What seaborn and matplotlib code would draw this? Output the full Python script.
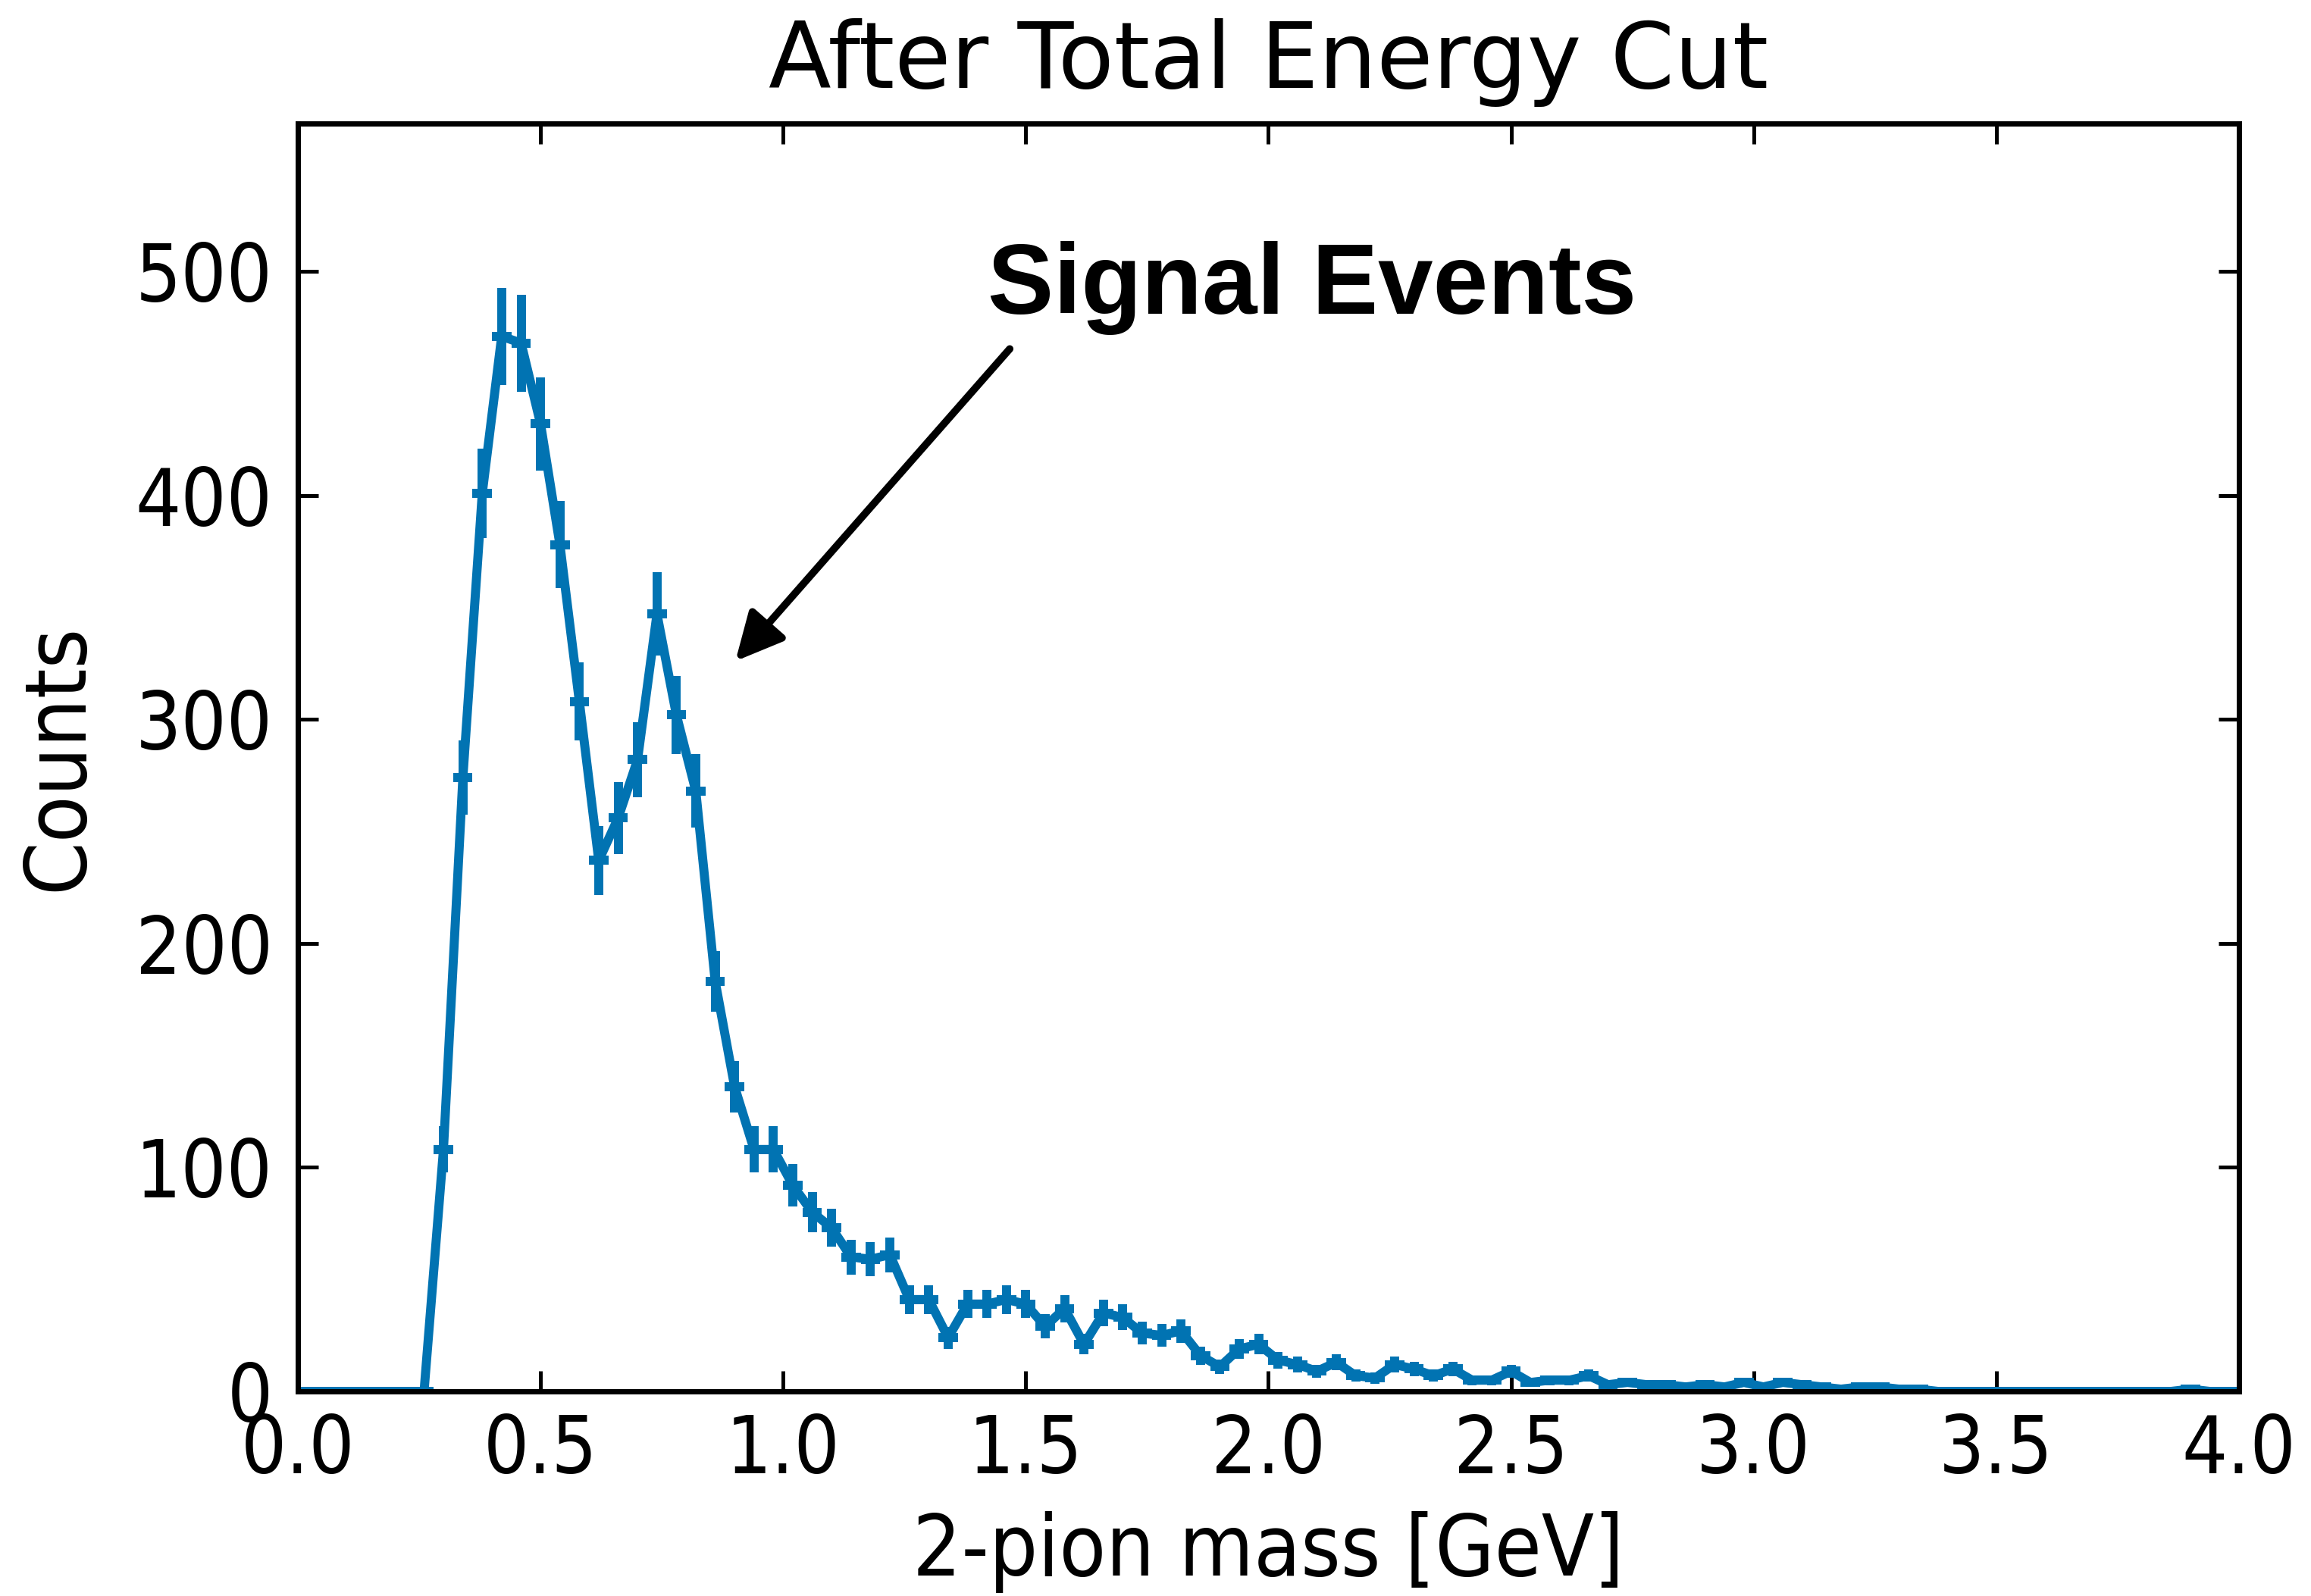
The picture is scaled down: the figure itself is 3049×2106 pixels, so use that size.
import numpy as np
import pandas as pd
import matplotlib
matplotlib.use("Agg")
import matplotlib.pyplot as plt
from matplotlib import font_manager
import seaborn as sns

# ---------------- data ----------------
bin_edges = np.linspace(0.0, 4.0, 101)          # 100 bins of 0.04 GeV
counts = [
    0, 0, 0, 0, 0, 0, 0, 108, 274, 401,
    471, 468, 432, 378, 308, 237, 256, 282, 347, 302,
    268, 183, 136, 108, 108, 92, 80, 73, 60, 59,
    61, 41, 41, 24, 39, 39, 41, 39, 29, 37,
    21, 35, 33, 26, 25, 27, 16, 11, 19, 21,
    14, 12, 9, 13, 7, 6, 12, 10, 7, 10,
    5, 5, 9, 4, 5, 5, 7, 3, 4, 3,
    3, 2, 3, 2, 4, 2, 4, 3, 2, 1,
    2, 2, 1, 1, 0, 0, 0, 0, 0, 0,
    0, 0, 0, 0, 0, 0, 0, 1, 0, 0,
]
x_ticks = [0.0, 0.5, 1.0, 1.5, 2.0, 2.5, 3.0, 3.5, 4.0]
x_tick_labels = ["0.0", "0.5", "1.0", "1.5", "2.0", "2.5", "3.0", "3.5", "4.0"]
y_ticks = [0, 100, 200, 300, 400, 500]
y_tick_labels = ["0", "100", "200", "300", "400", "500"]
title = "After Total Energy Cut"
x_label = "2-pion mass [GeV]"
y_label = "Counts"
note = "Signal Events"

centers = 0.5 * (bin_edges[:-1] + bin_edges[1:])
half_width = 0.5 * (bin_edges[1] - bin_edges[0])
counts_arr = np.array(counts, dtype=float)
errors = np.sqrt(counts_arr)
df = pd.DataFrame({"mass": centers, "counts": counts_arr})

# ---------------- style ----------------
sns.set_theme(style="ticks")
plt.rcParams["font.family"] = ["DejaVu Sans"]
plt.rcParams["text.color"] = "black"
plt.rcParams["axes.labelcolor"] = "black"
plt.rcParams["xtick.color"] = "black"
plt.rcParams["ytick.color"] = "black"

has_condensed = any(
    f.name == "DejaVu Sans" and str(f.stretch) in ("condensed", "semi-condensed", "500", "600", "700")
    for f in font_manager.fontManager.ttflist
)
if has_condensed:
    lab_kw = dict(fontstretch="condensed")
    tick_size, lab_size = 38, 40.5
else:
    lab_kw = {}
    tick_size, lab_size = 34, 36

blue = "#0173b2"

fig = plt.figure(figsize=(3049 / 200, 2106 / 200), dpi=200)
ax = fig.add_axes([0.1289, 0.1282, 0.8399, 0.7944])

sns.lineplot(data=df, x="mass", y="counts", ax=ax, color=blue, linewidth=4.3,
             estimator=None, sort=True)
ax.errorbar(centers, counts_arr, xerr=half_width, yerr=errors, fmt="none",
            ecolor=blue, elinewidth=4.3, capsize=0)

ax.set_xlim(0, 4)
ax.set_ylim(0, 566)
ax.set_xticks(x_ticks)
ax.set_yticks(y_ticks)
ax.set_xticklabels(x_tick_labels, **lab_kw)
ax.set_yticklabels(y_tick_labels, **lab_kw)
ax.tick_params(direction="in", length=9.7, width=1.8, top=True, right=True,
               labelsize=tick_size, colors="black")
ax.tick_params(axis="x", pad=10)
ax.tick_params(axis="y", pad=12)
for s in ax.spines.values():
    s.set_linewidth(2.5)
    s.set_color("black")

ax.set_title(title, fontsize=43.5, pad=17, color="black")
ax.set_xlabel(x_label, fontsize=lab_size, labelpad=10, color="black", **lab_kw)
ax.set_ylabel(y_label, fontsize=lab_size, labelpad=17, color="black", **lab_kw)

ax.annotate("", xy=(0.9016, 326), xytext=(1.467, 465.4),
            arrowprops=dict(arrowstyle="-|>,head_length=0.95,head_width=0.47",
                            lw=3.5, color="black", shrinkA=0, shrinkB=0,
                            mutation_scale=20))
ax.text(2.09, 481, note, fontsize=47, fontweight="bold", color="black",
        family=["Liberation Sans", "DejaVu Sans"], ha="center", va="baseline")

fig.savefig("out.png", dpi=200)
